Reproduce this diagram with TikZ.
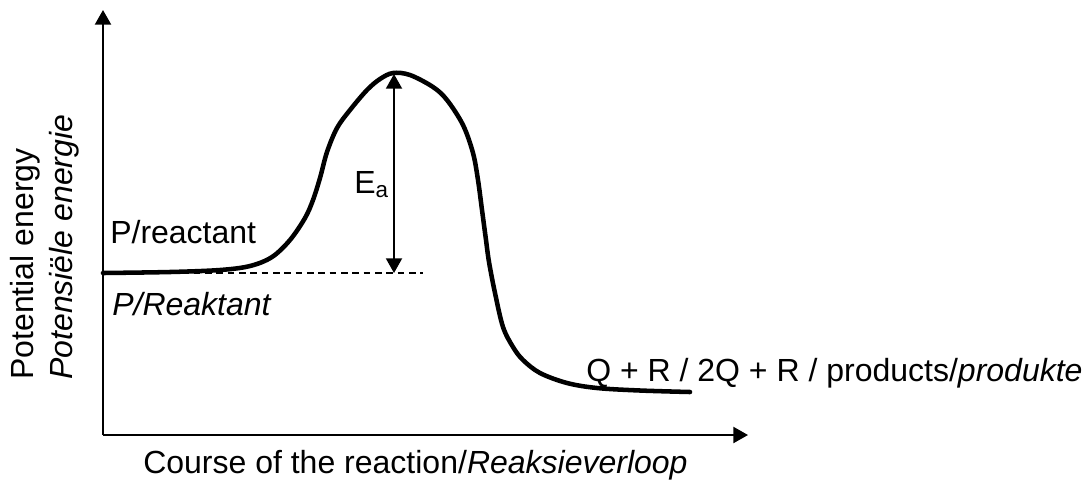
\documentclass[tikz,border=0pt]{standalone}
\usepackage{fontspec}
\setmainfont{Liberation Sans}
\usepackage{tikz}
\usetikzlibrary{arrows.meta}
\newcommand{\rxfont}{\fontsize{24}{28}\selectfont}
\tikzset{
    rxcurve/.style={line width=3.4pt, line cap=round, line join=round},
    rxaxis/.style={line width=1.7pt, -{Triangle[length=11pt, width=12pt]}},
    rxarrow/.style={line width=1.4pt, {Triangle[length=11pt, width=12pt]}-{Triangle[length=11pt, width=12pt]}},
    rxdash/.style={line width=0.9pt, dash pattern=on 5pt off 3.5pt},
    rxlabel/.style={inner sep=0pt, font=\rxfont, anchor=base west}
}

\begin{document}
\begin{tikzpicture}[x=0.75pt, y=-0.75pt]
    \useasboundingbox (0,0) rectangle (1091,480);

    \coordinate (origin) at (103,435);
    \coordinate (ytip) at (103,10);
    \coordinate (xtip) at (748,435);
    \coordinate (react) at (103,273);
    \coordinate (dashend) at (423,273);
    \coordinate (peak) at (394,74);
    \coordinate (eabase) at (394,273);

    % axes
    \draw[rxaxis] (origin) -- (ytip);
    \draw[rxaxis] (origin) -- (xtip);

    % energy profile
    \draw[rxcurve] plot[smooth, tension=0.55] coordinates {
        (103,273) (170,272) (220,270) (250,266) (272,257) (290,240)
        (305,218) (313,200) (320,178) (327,152) (337,128) (350,110)
        (367,90) (380,79) (393,73) (410,75) (433,87) (447,100)
        (463,125) (473,153) (478,180) (482,210) (486,240) (489,262)
        (495,293) (503,327) (513,347) (523,360) (540,373) (567,383)
        (597,388) (640,390.5) (690,392)};

    \draw[rxdash] (react) -- (dashend);
    \draw[rxarrow] (eabase) -- (peak);

    % labels
    \node[rxlabel] (ea) at (354,193) {E\textsubscript{a}};
    \node[rxlabel] (reactant) at (110,243) {P/reactant};
    \node[rxlabel] (reaktant) at (112,315) {\itshape P/Reaktant};
    \node[rxlabel] (products) at (586,381) {Q + R / 2Q + R / products/\textit{produkte}};
    \node[rxlabel] (course) at (143,473) {Course of the reaction/\textit{Reaksieverloop}};
    \node[rxlabel, rotate=90] (energy) at (33,380) {Potential energy};
    \node[rxlabel, rotate=90] (energie) at (72,380) {\itshape Potensiële energie};
\end{tikzpicture}
\end{document}
